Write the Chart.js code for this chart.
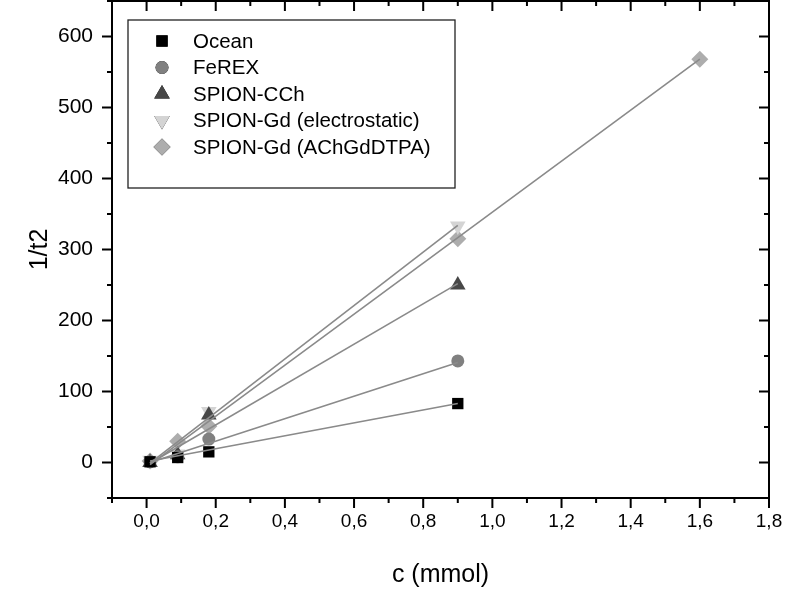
<!DOCTYPE html>
<html>
<head>
<meta charset="utf-8">
<title>1/t2 vs c</title>
<script src="https://cdn.jsdelivr.net/npm/chart.js@4/dist/chart.umd.min.js"></script>
<style>
  html, body { margin: 0; padding: 0; background: #fff; }
  #wrap { width: 787px; height: 592px; position: relative; }
</style>
</head>
<body>
<div id="wrap"><canvas id="grafico"></canvas></div>
<script>
// --- Datos ---
const conc = [0.01, 0.09, 0.18, 0.9];
const concDTPA = [0.01, 0.09, 0.18, 0.9, 1.6];

const ocean = [1, 7, 15, 83];
const ferex = [1, 8, 33, 143];
const spionCCh = [0, 11, 67, 250];
const spionGdElec = [3, 12, 72, 333];
const spionGdDTPA = [2, 30, 51, 315, 568];

// Rectas de ajuste: [x inicio, x fin] y [y inicio, y fin]
const fitX = [0.01, 0.9];
const fitXDTPA = [0.01, 1.6];
const fitOcean = [2, 83];
const fitFerex = [0, 141];
const fitCCh = [-1, 252];
const fitElec = [-1, 334];
const fitDTPA = [-3, 568];

const seriesNames = ['Ocean', 'FeREX', 'SPION-CCh', 'SPION-Gd (electrostatic)', 'SPION-Gd (AChGdDTPA)'];

// Ejes
const xTicks = [0, 0.2, 0.4, 0.6, 0.8, 1.0, 1.2, 1.4, 1.6, 1.8];
const xTickLabels = ['0,0', '0,2', '0,4', '0,6', '0,8', '1,0', '1,2', '1,4', '1,6', '1,8'];
const xMinor = [-0.1, 0.1, 0.3, 0.5, 0.7, 0.9, 1.1, 1.3, 1.5, 1.7];
const yTicks = [0, 100, 200, 300, 400, 500, 600];
const yMinor = [-50, 50, 150, 250, 350, 450, 550, 650];

(function() {
    const FONT = "'Liberation Sans', Arial, Helvetica, sans-serif";

    // Estilo de marcadores por serie
    const markers = [
        { pointStyle: 'rect', radius: 8, rotation: 0, color: '#000000' },
        { pointStyle: 'circle', radius: 6.5, rotation: 0, color: '#808080' },
        { pointStyle: 'triangle', radius: 9, rotation: 0, color: '#474747' },
        { pointStyle: 'triangle', radius: 9, rotation: 180, color: '#d4d4d4' },
        { pointStyle: 'rectRot', radius: 8.5, rotation: 0, color: '#adadad' }
    ];

    const pts = (xs, ys) => xs.map((x, i) => ({ x: x, y: ys[i] }));

    const pointSets = [
        pts(conc, ocean), pts(conc, ferex), pts(conc, spionCCh),
        pts(conc, spionGdElec), pts(concDTPA, spionGdDTPA)
    ];
    const fitSets = [
        pts(fitX, fitOcean), pts(fitX, fitFerex), pts(fitX, fitCCh),
        pts(fitX, fitElec), pts(fitXDTPA, fitDTPA)
    ];

    const datasets = [];
    pointSets.forEach((data, i) => {
        const m = markers[i];
        datasets.push({
            label: seriesNames[i],
            data: data,
            showLine: false,
            pointStyle: m.pointStyle,
            pointRadius: m.radius,
            pointRotation: m.rotation,
            pointBackgroundColor: m.color,
            pointBorderColor: m.color,
            pointBorderWidth: 0,
            order: 2
        });
    });
    fitSets.forEach((data, i) => {
        datasets.push({
            label: 'fit ' + seriesNames[i],
            data: data,
            showLine: true,
            borderColor: '#8a8a8a',
            borderWidth: 1.6,
            pointRadius: 0,
            order: 1
        });
    });

    // Sin relleno extra de las escalas: el área del gráfico queda fija
    const noPad = s => { s.paddingTop = 0; s.paddingBottom = 0; s.paddingLeft = 0; s.paddingRight = 0; };

    // Marco, marcas de ejes y leyenda
    const framePlugin = {
        id: 'frame',
        afterDraw(chart) {
            const ctx = chart.ctx;
            const a = chart.chartArea;
            const sx = chart.scales.x, sy = chart.scales.y;
            ctx.save();
            ctx.strokeStyle = '#000';
            ctx.lineWidth = 2;
            ctx.lineCap = 'butt';

            ctx.strokeRect(a.left, a.top, a.right - a.left, a.bottom - a.top);

            const tickX = (v, len) => {
                const px = sx.getPixelForValue(v);
                ctx.beginPath();
                ctx.moveTo(px, a.bottom); ctx.lineTo(px, a.bottom + len);
                ctx.moveTo(px, a.top); ctx.lineTo(px, a.top + len);
                ctx.stroke();
            };
            const tickY = (v, len) => {
                const py = sy.getPixelForValue(v);
                ctx.beginPath();
                ctx.moveTo(a.left, py); ctx.lineTo(a.left - len, py);
                ctx.moveTo(a.right, py); ctx.lineTo(a.right - len, py);
                ctx.stroke();
            };
            xTicks.forEach(v => tickX(v, 10));
            xMinor.forEach(v => tickX(v, 5));
            yTicks.forEach(v => tickY(v, 10));
            yMinor.forEach(v => tickY(v, 5));

            // Leyenda
            const box = { x: 128, y: 20, w: 327, h: 168 };
            ctx.lineWidth = 1.3;
            ctx.strokeStyle = '#222';
            ctx.strokeRect(box.x, box.y, box.w, box.h);
            ctx.font = '20.5px ' + FONT;
            ctx.fillStyle = '#000';
            ctx.textBaseline = 'middle';
            ctx.textAlign = 'left';
            seriesNames.forEach((name, i) => {
                const m = markers[i];
                const cy = 41 + i * 26.5;
                Chart.helpers.drawPoint(ctx, {
                    pointStyle: m.pointStyle,
                    radius: m.radius,
                    rotation: m.rotation,
                    borderWidth: 0
                }, 162, cy);
                ctx.fillStyle = m.color;
                ctx.fill();
                ctx.fillStyle = '#000';
                ctx.fillText(name, 193, cy + 1);
            });
            ctx.restore();
        }
    };

    const ctx = document.getElementById('grafico').getContext('2d');
    new Chart(ctx, {
        type: 'scatter',
        data: { datasets: datasets },
        options: {
            responsive: true,
            maintainAspectRatio: false,
            animation: false,
            layout: { autoPadding: false, padding: { top: 1, right: 18, bottom: 0, left: 0 } },
            plugins: { legend: { display: false }, tooltip: { enabled: false } },
            scales: {
                x: {
                    type: 'linear', min: -0.1, max: 1.8,
                    afterBuildTicks: s => { s.ticks = xTicks.map(v => ({ value: v })); },
                    afterFit: s => { s.height = 94; noPad(s); },
                    grid: { display: false, drawTicks: false, tickLength: 0 },
                    border: { display: false },
                    ticks: {
                        color: '#000', padding: 12, maxRotation: 0, autoSkip: false,
                        font: { family: FONT, size: 19 },
                        callback: v => xTickLabels[xTicks.indexOf(v)]
                    },
                    title: {
                        display: true, text: 'c (mmol)', color: '#000',
                        font: { family: FONT, size: 25 },
                        padding: { top: 0, bottom: 2 }
                    }
                },
                y: {
                    type: 'linear', min: -50, max: 650,
                    afterBuildTicks: s => { s.ticks = yTicks.map(v => ({ value: v })); },
                    afterFit: s => { s.width = 112; noPad(s); },
                    grid: { display: false, drawTicks: false, tickLength: 0 },
                    border: { display: false },
                    ticks: {
                        color: '#000', padding: 19,
                        font: { family: FONT, size: 21 }
                    },
                    title: {
                        display: true, text: '1/t2', color: '#000',
                        font: { family: FONT, size: 25 },
                        padding: { top: 25, bottom: 0 }
                    }
                }
            }
        },
        plugins: [framePlugin]
    });
})();
</script>
</body>
</html>
